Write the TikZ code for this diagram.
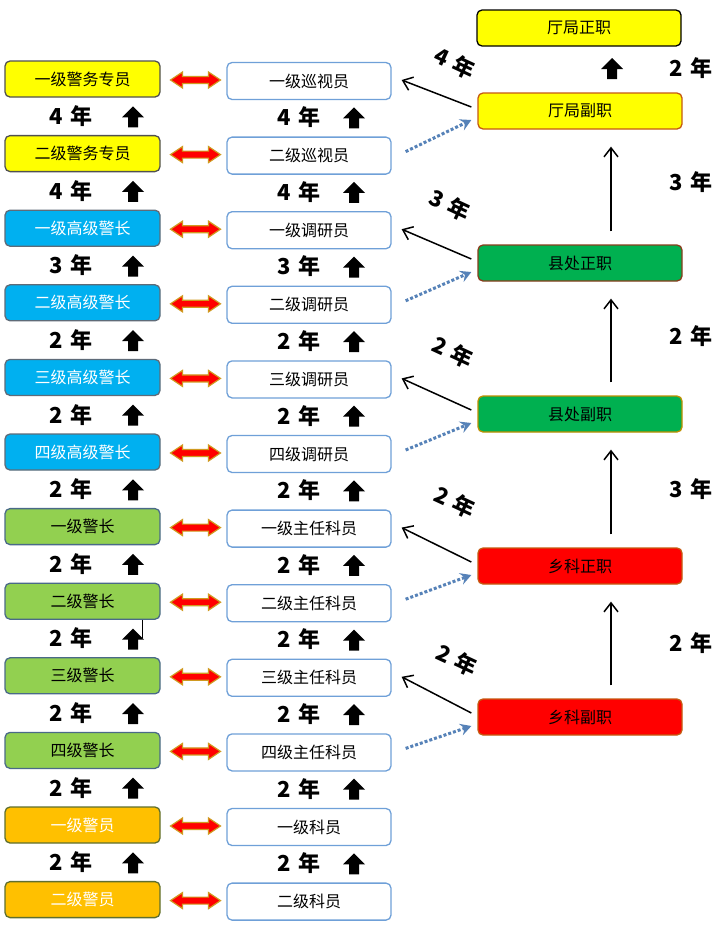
\documentclass[tikz,border=0pt]{standalone}
\usepackage{fontspec}
\setmainfont{Noto Sans CJK SC}
\usetikzlibrary{arrows.meta,calc}
\definecolor{ybox}{HTML}{FFFF00}
\definecolor{yborder}{HTML}{505050}
\definecolor{bbox}{HTML}{00B0F0}
\definecolor{bborder}{HTML}{5F6B78}
\definecolor{gbox}{HTML}{92D050}
\definecolor{gborder}{HTML}{4A6A88}
\definecolor{obox}{HTML}{FFC000}
\definecolor{oborder}{HTML}{5F6F2F}
\definecolor{midblue}{HTML}{6FA0D8}
\definecolor{arrgold}{HTML}{D09A20}
\definecolor{dotblue}{HTML}{5682B8}
\definecolor{dgreen}{HTML}{00B050}
\definecolor{brownA}{HTML}{C55A11}
\definecolor{brownB}{HTML}{8A3C1C}
\definecolor{goldB}{HTML}{BF9000}
\newcommand{\yrtxt}[1]{#1\hspace{7pt}年}
\begin{document}
\begin{tikzpicture}[x=1pt,y=-1pt,
  box/.style={draw, rounded corners=5pt, line width=1.3pt, minimum height=36pt, inner sep=0pt, font=\fontsize{16}{16}\selectfont},
  lbox/.style={box, minimum width=155pt},
  ystyle/.style={fill=ybox,draw=yborder},
  bstyle/.style={fill=bbox,draw=bborder,text=white},
  gstyle/.style={fill=gbox,draw=gborder},
  ostyle/.style={fill=obox,draw=oborder,text=white},
  mbox/.style={box, minimum width=164pt, minimum height=37pt, draw=midblue, fill=white},
  rbox/.style={box, minimum width=204pt},
  yrlab/.style={font=\bfseries\fontsize{22}{22}\selectfont, inner sep=0pt},
  solidarr/.style={line width=1.5pt, -{Straight Barb[length=9pt,width=14pt,line width=1.5pt]}},
  dotarr/.style={line width=3pt, dotted, dotblue, -{Stealth[length=11pt,width=12pt,inset=4pt]}},
  blockup/.pic={\fill[black] (-5,11) -- (-5,1) -- (-11,1) -- (0,-10) -- (11,1) -- (5,1) -- (5,11) -- cycle;},
  dblarr/.pic={\filldraw[fill=red, draw=arrgold, line width=1.2pt, line join=miter] (-25,0) -- (-13,-8) -- (-13,-3.5) -- (13,-3.5) -- (13,-8) -- (25,0) -- (13,8) -- (13,3.5) -- (-13,3.5) -- (-13,8) -- cycle;}
]
\useasboundingbox[fill=white] (0,0) rectangle (726,938);

% left column
\foreach \i/\t/\st in {
  1/一级警务专员/ystyle,
  2/二级警务专员/ystyle,
  3/一级高级警长/bstyle,
  4/二级高级警长/bstyle,
  5/三级高级警长/bstyle,
  6/四级高级警长/bstyle,
  7/一级警长/gstyle,
  8/二级警长/gstyle,
  9/三级警长/gstyle,
  10/四级警长/gstyle,
  11/一级警员/ostyle,
  12/二级警员/ostyle}{
  \pgfmathsetmacro\yy{79+74.6*(\i-1)}
  \node[lbox,\st] (l\i) at (82.5,\yy) {\t};
}
% middle column
\foreach \i/\t in {1/一级巡视员,2/二级巡视员,3/一级调研员,4/二级调研员,5/三级调研员,6/四级调研员,
  7/一级主任科员,8/二级主任科员,9/三级主任科员,10/四级主任科员,11/一级科员,12/二级科员}{
  \pgfmathsetmacro\yy{81+74.6*(\i-1)}
  \node[mbox] (m\i) at (309,\yy) {\t};
}
% double arrows
\foreach \i in {1,...,12}{
  \pic at ($(l\i.east)!0.5!(m\i.west)+(2,0)$) {dblarr};
}
% years and block arrows between rows
\foreach \i/\yr in {1/4,2/4,3/3,4/2,5/2,6/2,7/2,8/2,9/2,10/2,11/2}{
  \pgfmathsetmacro\yy{79+74.6*(\i-1)+37.3}
  \node[yrlab] (ly\i) at (71,\yy) {\yrtxt{\yr}};
  \pic at (133,\yy) {blockup};
  \node[yrlab] (my\i) at (299,\yy+1) {\yrtxt{\yr}};
  \pic at (354,\yy+1) {blockup};
}
\draw[line width=1pt] ($(l8.south)+(60,0)$) -- +(0,18);

% right column
\node[rbox,fill=ybox,draw=black] (r1) at (579,28) {厅局正职};
\node[rbox,fill=ybox,draw=brownA] (r2) at (580,111) {厅局副职};
\node[rbox,fill=dgreen,draw=brownB] (r3) at (580,263) {县处正职};
\node[rbox,fill=dgreen,draw=goldB] (r4) at (580,414) {县处副职};
\node[rbox,fill=red,draw=brownA] (r5) at (580,566) {乡科正职};
\node[rbox,fill=red,draw=brownA] (r6) at (580,717) {乡科副职};

\pic at (612,68) {blockup};
\node[yrlab] (ry1) at (691,68) {\yrtxt{2}};
\node[yrlab] (ry2) at (691,182) {\yrtxt{3}};
\node[yrlab] (ry3) at (691,336) {\yrtxt{2}};
\node[yrlab] (ry4) at (691,489) {\yrtxt{3}};
\node[yrlab] (ry5) at (691,643) {\yrtxt{2}};

\foreach \a/\b in {r3/r2,r4/r3,r5/r4,r6/r5}{
  \draw[solidarr] ($(\a.north)+(31,-13)$) -- ($(\b.south)+(31,17)$);
}

% diagonal arrows
\foreach \r/\ma/\mb in {r2/m1/m2,r3/m3/m4,r4/m5/m6,r5/m7/m8,r6/m9/m10}{
  \draw[solidarr] ($(\r.west)+(-6,-4)$) -- ($(\ma.east)+(10,-1)$);
  \draw[dotarr] ($(\mb.east)+(14,-4)$) -- ($(\r.west)+(-6,9)$);
}
\node[yrlab,rotate=-25] (d1) at (455,63) {\yrtxt{4}};
\node[yrlab,rotate=-25] (d2) at (450,205) {\yrtxt{3}};
\node[yrlab,rotate=-25] (d3) at (453,352) {\yrtxt{2}};
\node[yrlab,rotate=-25] (d4) at (455,502) {\yrtxt{2}};
\node[yrlab,rotate=-25] (d5) at (457,660) {\yrtxt{2}};
\end{tikzpicture}
\end{document}
